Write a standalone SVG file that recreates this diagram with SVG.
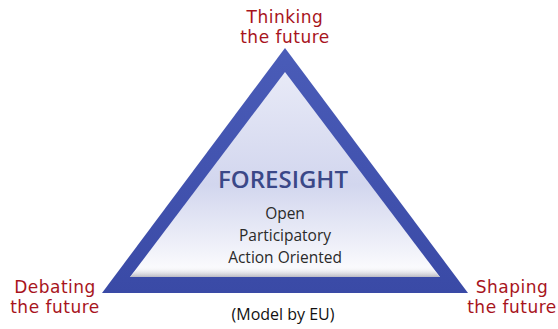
<svg xmlns="http://www.w3.org/2000/svg" width="558" height="329" viewBox="0 0 558 329">
<defs>
<linearGradient id="border" x1="0" y1="0" x2="0" y2="1">
<stop offset="0" stop-color="#4a5cb8"/>
<stop offset="1" stop-color="#3a4aa6"/>
</linearGradient>
<linearGradient id="inner" x1="0" y1="0" x2="0" y2="1">
<stop offset="0" stop-color="#e8eaf7"/>
<stop offset="0.55" stop-color="#d2d6ee"/>
<stop offset="0.88" stop-color="#f2f3fa"/>
<stop offset="1" stop-color="#ffffff"/>
</linearGradient>
<linearGradient id="shade" x1="0" y1="0" x2="0" y2="1">
<stop offset="0" stop-color="#ffffff" stop-opacity="0"/>
<stop offset="1" stop-color="#9a9aa8" stop-opacity="0.7"/>
</linearGradient>
</defs>
<style>
.lbl{font-family:"DejaVu Sans",sans-serif;font-size:17px;letter-spacing:0.5px;fill:#a8141c;text-anchor:middle}
.body{font-family:"Open Sans","DejaVu Sans",sans-serif;font-size:15.5px;fill:#2a2a2a;text-anchor:middle}
.title{font-family:"Open Sans","DejaVu Sans",sans-serif;font-size:24px;font-weight:600;fill:#3a4888;text-anchor:middle}
.cap{font-family:"Open Sans","Liberation Sans",sans-serif;font-size:16px;fill:#111;text-anchor:middle}
</style>
<rect width="558" height="329" fill="#ffffff"/>
<g id="triangle">
<polygon points="285,48 102,293 468,293" fill="url(#border)"/>
<polygon points="285,72 130,277 440,277" fill="url(#inner)"/>
<polygon points="140,266 430,266 440,277 130,277" fill="url(#shade)"/>
<text class="title" x="283" y="188">FORESIGHT</text>
<text class="body" x="285" y="219"><tspan x="285" y="219">Open</tspan><tspan x="285" y="241">Participatory</tspan><tspan x="285" y="263">Action Oriented</tspan></text>
</g>
<g id="thinking">
<text class="lbl"><tspan x="285" y="23">Thinking</tspan><tspan x="285" y="43">the future</tspan></text>
</g>
<g id="debating">
<text class="lbl"><tspan x="55" y="292.5">Debating</tspan><tspan x="55" y="312.5">the future</tspan></text>
</g>
<g id="shaping">
<text class="lbl"><tspan x="512" y="292.5">Shaping</tspan><tspan x="512" y="312.5">the future</tspan></text>
</g>
<g id="connectors"></g>
<text class="cap" x="283" y="320">(Model by EU)</text>
</svg>
